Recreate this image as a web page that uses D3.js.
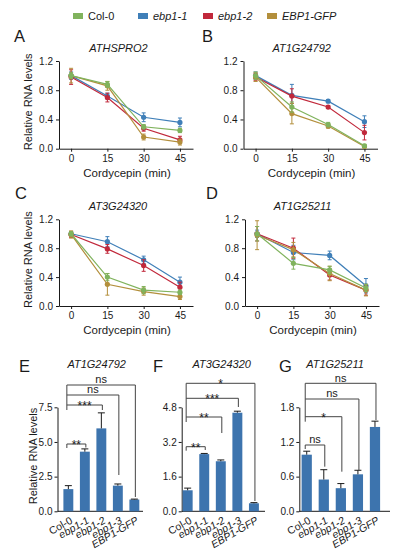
<!DOCTYPE html>
<html>
<head>
<meta charset="utf-8">
<script src="https://cdn.jsdelivr.net/npm/d3@7"></script>
<style>
body { margin: 0; background: #fff; }
text { font-family: "Liberation Sans", Arial, sans-serif; fill: #1a1a1a; }
</style>
</head>
<body>
<script>
// ---- data ----
var genotypes = ["Col-0", "ebp1-1", "ebp1-2", "EBP1-GFP"];
var colors = ["#80b35d", "#3f7fb8", "#c1283b", "#b38f3c"];
var times = [0, 15, 30, 45];
var lineTicks = [0, 0.4, 0.8, 1.2];

// rows follow the genotypes order
var meansA = [[1.0, 0.88, 0.30, 0.25], [1.0, 0.72, 0.43, 0.36], [0.98, 0.70, 0.28, 0.12], [1.0, 0.86, 0.16, 0.09]];
var sdsA   = [[0.04, 0.04, 0.03, 0.03], [0.05, 0.04, 0.06, 0.06], [0.1, 0.06, 0.04, 0.05], [0.1, 0.06, 0.04, 0.04]];
var meansB = [[1.0, 0.57, 0.33, 0.04], [1.0, 0.73, 0.65, 0.37], [0.98, 0.72, 0.57, 0.22], [0.98, 0.48, 0.31, 0.03]];
var sdsB   = [[0.05, 0.07, 0.03, 0.02], [0.05, 0.15, 0.02, 0.08], [0.05, 0.1, 0.02, 0.1], [0.06, 0.14, 0.03, 0.02]];
var meansC = [[1.0, 0.40, 0.22, 0.19], [1.0, 0.89, 0.64, 0.33], [0.99, 0.79, 0.56, 0.26], [0.99, 0.30, 0.20, 0.13]];
var sdsC   = [[0.03, 0.05, 0.05, 0.03], [0.03, 0.07, 0.05, 0.07], [0.04, 0.06, 0.08, 0.07], [0.05, 0.15, 0.05, 0.04]];
var meansD = [[1.0, 0.59, 0.50, 0.25], [1.0, 0.74, 0.70, 0.28], [1.0, 0.80, 0.43, 0.22], [0.98, 0.78, 0.45, 0.22]];
var sdsD   = [[0.1, 0.08, 0.05, 0.05], [0.05, 0.1, 0.06, 0.1], [0.1, 0.14, 0.07, 0.07], [0.2, 0.1, 0.1, 0.08]];

var lines = ["Col-0", "ebp1-1", "ebp1-2", "ebp1-3", "EBP1-GFP"];
var eMeans = [1.6, 4.3, 5.98, 1.85, 0.85], eSds = [0.25, 0.2, 1.12, 0.12, 0.03];
var fMeans = [0.97, 2.64, 2.31, 4.55, 0.37], fSds = [0.1, 0.03, 0.06, 0.07, 0.03];
var gMeans = [0.98, 0.55, 0.4, 0.64, 1.46], gSds = [0.06, 0.17, 0.08, 0.07, 0.1];
var eTicks = [0, 2.5, 5.0, 7.5], fTicks = [0, 1.6, 3.2, 4.8], gTicks = [0, 0.6, 1.2, 1.8];
// significance vs Col-0, for ebp1-1, ebp1-2, ebp1-3, EBP1-GFP
var eSig = ["**", "***", "ns", "ns"];
var fSig = ["**", "**", "***", "*"];
var gSig = ["ns", "*", "ns", "ns"];

var svg = d3.select("body").append("svg")
    .attr("width", 397)
    .attr("height", 552);

// legend
var legendX = [73, 138, 203, 267];
genotypes.forEach((name, i) => {
    svg.append("rect")
        .attr("x", legendX[i]).attr("y", 13)
        .attr("width", 10).attr("height", 6)
        .attr("fill", colors[i]);
    svg.append("text")
        .attr("x", legendX[i] + 15).attr("y", 20)
        .attr("font-size", 11)
        .attr("font-style", i == 0 ? "normal" : "italic")
        .text(name);
});

function styleAxis(g) {
    g.attr("font-size", null).attr("font-family", null);
    g.selectAll("text").attr("font-size", 10).attr("fill", "#1a1a1a");
    g.selectAll("path, line").attr("stroke", "#1a1a1a");
}

function letter(txt, x, y) {
    svg.append("text").attr("x", x).attr("y", y)
        .attr("font-size", 16.5).text(txt);
}

function linePanel(o) {
    var x = d3.scaleLinear().domain([-5, 50.4]).range([o.ax, o.ax + 134]);
    var y = d3.scaleLinear().domain([0, 1.2]).range([o.bot, o.top]);
    var g = svg.append("g");

    g.append("g")
        .attr("transform", `translate(0, ${o.bot})`)
        .call(d3.axisBottom(x).tickValues(times).tickSize(3).tickSizeOuter(0).tickPadding(3))
        .call(styleAxis);
    g.append("g")
        .attr("transform", `translate(${o.ax}, 0)`)
        .call(d3.axisLeft(y).tickValues(lineTicks).tickFormat(d3.format(".1f")).tickSize(3).tickSizeOuter(0).tickPadding(3))
        .call(styleAxis);

    [1, 2, 3, 0].forEach(i => {
        var pts = times.map((t, j) => ({ t: t, m: o.means[i][j], s: o.sds[i][j] }));
        g.append("path").datum(pts)
            .attr("d", d3.line().x(d => x(d.t)).y(d => y(d.m)))
            .attr("fill", "none")
            .attr("stroke", colors[i])
            .attr("stroke-width", 1.2);
        var eb = g.selectAll(null).data(pts).enter().append("g").attr("stroke", colors[i]).attr("stroke-width", 1);
        eb.append("line").attr("x1", d => x(d.t)).attr("x2", d => x(d.t))
            .attr("y1", d => y(d.m - d.s)).attr("y2", d => y(d.m + d.s));
        eb.append("line").attr("x1", d => x(d.t) - 2).attr("x2", d => x(d.t) + 2)
            .attr("y1", d => y(d.m + d.s)).attr("y2", d => y(d.m + d.s));
        eb.append("line").attr("x1", d => x(d.t) - 2).attr("x2", d => x(d.t) + 2)
            .attr("y1", d => y(d.m - d.s)).attr("y2", d => y(d.m - d.s));
        g.selectAll(null).data(pts).enter().append("circle")
            .attr("cx", d => x(d.t)).attr("cy", d => y(d.m))
            .attr("r", 2.6)
            .attr("fill", colors[i]);
    });

    svg.append("text")
        .attr("x", o.titleX).attr("y", o.top - 9.5)
        .attr("text-anchor", "middle")
        .attr("font-size", 11).attr("font-style", "italic")
        .text(o.title);
    svg.append("text")
        .attr("x", o.ax + 68).attr("y", o.bot + 28)
        .attr("text-anchor", "middle")
        .attr("font-size", 11.5)
        .text("Cordycepin (min)");
    if (o.yLabel) {
        svg.append("text")
            .attr("transform", `translate(31.5, ${(o.top + o.bot) / 2 - 3}) rotate(-90)`)
            .attr("text-anchor", "middle")
            .attr("font-size", 11)
            .text("Relative RNA levels");
    }
    letter(o.letter, o.lx, o.ly);
}

linePanel({ letter: "A", lx: 14, ly: 41.5, title: "ATHSPRO2", titleX: 118.5, ax: 59, top: 61, bot: 148.7, means: meansA, sds: sdsA, yLabel: true });
linePanel({ letter: "B", lx: 202, ly: 41.5, title: "AT1G24792", titleX: 301.7, ax: 243.5, top: 61, bot: 148.7, means: meansB, sds: sdsB, yLabel: false });
linePanel({ letter: "C", lx: 15, ly: 199, title: "AT3G24320", titleX: 118, ax: 59, top: 219.3, bot: 306, means: meansC, sds: sdsC, yLabel: true });
linePanel({ letter: "D", lx: 206, ly: 199, title: "AT1G25211", titleX: 302.5, ax: 245, top: 219.3, bot: 306, means: meansD, sds: sdsD, yLabel: false });

function barPanel(o) {
    var top = 407.3, bot = 511.3;
    var x = d3.scaleBand().domain(lines).range(o.band).paddingInner(0.4).paddingOuter(0);
    var y = d3.scaleLinear().domain(o.domain).range([bot, top]);
    var g = svg.append("g");

    g.append("g")
        .attr("transform", `translate(${o.ax}, 0)`)
        .call(d3.axisLeft(y).tickValues(o.ticks).tickFormat(d3.format(".1f")).tickSize(3).tickSizeOuter(0).tickPadding(2))
        .call(styleAxis);
    g.append("line")
        .attr("x1", o.ax).attr("x2", o.axEnd)
        .attr("y1", bot).attr("y2", bot)
        .attr("stroke", "#1a1a1a");

    g.selectAll(null).data(o.means).enter().append("rect")
        .attr("x", (d, i) => x(lines[i]))
        .attr("y", d => y(d))
        .attr("width", x.bandwidth())
        .attr("height", d => bot - y(d))
        .attr("fill", "#3d74ae");
    var eb = g.selectAll(null).data(o.means).enter().append("g").attr("stroke", "#1a1a1a").attr("stroke-width", 1);
    eb.append("line")
        .attr("x1", (d, i) => x(lines[i]) + x.bandwidth() / 2)
        .attr("x2", (d, i) => x(lines[i]) + x.bandwidth() / 2)
        .attr("y1", d => y(d))
        .attr("y2", (d, i) => y(d + o.sds[i]));
    eb.append("line")
        .attr("x1", (d, i) => x(lines[i]) + x.bandwidth() / 2 - 3.5)
        .attr("x2", (d, i) => x(lines[i]) + x.bandwidth() / 2 + 3.5)
        .attr("y1", (d, i) => y(d + o.sds[i]))
        .attr("y2", (d, i) => y(d + o.sds[i]));

    // category labels
    lines.forEach((name, i) => {
        var cx = x(name) + x.bandwidth() / 2;
        svg.append("text")
            .attr("transform", `translate(${cx + 3}, ${bot + 8}) rotate(-30)`)
            .attr("dy", "0.35em")
            .attr("text-anchor", "end")
            .attr("font-size", 10.5)
            .attr("font-style", i == 0 ? "normal" : "italic")
            .text(name);
    });

    // significance brackets
    var cx0 = x(lines[0]) + x.bandwidth() / 2 - 1.5;
    var bk = g.append("g").attr("fill", "none").attr("stroke", "#444").attr("stroke-width", 1);
    bk.append("line").attr("x1", cx0).attr("x2", cx0)
        .attr("y1", o.levels[3]).attr("y2", o.levels[1] + 5);
    o.sig.forEach((s, k) => {
        var cx = x(lines[k + 1]) + x.bandwidth() / 2 + 1;
        var lv = o.levels[k];
        var p = k == 0 ? `M${cx0},${lv + 4}V${lv}H${cx}V${o.ends[k]}` : `M${cx0},${lv}H${cx}V${o.ends[k]}`;
        bk.append("path").attr("d", p);
        svg.append("text")
            .attr("x", (cx0 + cx) / 2)
            .attr("y", s == "ns" ? lv - 1.8 : lv + 5)
            .attr("text-anchor", "middle")
            .attr("font-size", s == "ns" ? 11 : 12)
            .text(s);
    });

    svg.append("text")
        .attr("x", o.titleX).attr("y", 368.3)
        .attr("text-anchor", "middle")
        .attr("font-size", 11).attr("font-style", "italic")
        .text(o.title);
    if (o.yLabel) {
        svg.append("text")
            .attr("transform", `translate(37, 456) rotate(-90)`)
            .attr("text-anchor", "middle")
            .attr("font-size", 11)
            .text("Relative RNA levels");
    }
    letter(o.letter, o.lx, 371.7);
}

barPanel({ letter: "E", lx: 19, title: "AT1G24792", titleX: 96.7, ax: 57.5, axEnd: 143, band: [63.4, 139.3],
    domain: [0, 7.5], ticks: eTicks, means: eMeans, sds: eSds, sig: eSig,
    levels: [444, 405, 395, 385], ends: [447.5, 410, 475, 497], yLabel: true });
barPanel({ letter: "F", lx: 153, title: "AT3G24320", titleX: 221.7, ax: 181.7, axEnd: 265, band: [182.7, 258.9],
    domain: [0, 4.8], ticks: fTicks, means: fMeans, sds: fSds, sig: fSig,
    levels: [446.7, 417, 398.3, 383.3], ends: [450, 433, 407, 501], yLabel: false });
barPanel({ letter: "G", lx: 279, title: "AT1G25211", titleX: 335, ax: 299.3, axEnd: 390, band: [301.6, 380.1],
    domain: [0, 1.8], ticks: gTicks, means: gMeans, sds: gSds, sig: gSig,
    levels: [445, 416.7, 399, 383.3], ends: [466.7, 471.7, 470.7, 420], yLabel: false });
</script>
</body>
</html>
